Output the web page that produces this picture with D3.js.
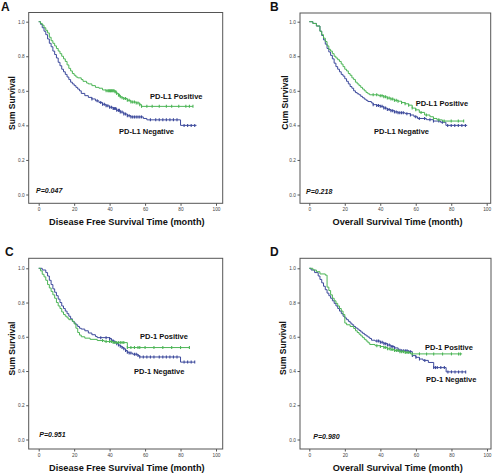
<!DOCTYPE html>
<html><head><meta charset="utf-8">
<script src="https://cdn.jsdelivr.net/npm/d3@7"></script>
<style>body{margin:0;background:#fff}svg{display:block}text{font-family:"Liberation Sans",Arial,sans-serif}</style>
</head><body><svg id="c" width="500" height="475"></svg>
<script>
// ---- data: Kaplan-Meier steps [time (months), survival after step] ----
const aPos=[[0,1],[1,0.99],[2,0.98],[3,0.965],[4,0.95],[5,0.935],[6,0.91],[7,0.89],[8,0.875],[9,0.86],[10,0.845],[11,0.83],[12,0.815],[13,0.8],[14,0.785],[15,0.77],[16,0.75],[17,0.73],[18,0.715],[19,0.7],[20,0.69],[21,0.68],[22,0.675],[24,0.665],[25,0.655],[27,0.645],[28,0.64],[30,0.63],[32,0.62],[34,0.615],[36,0.605],[38,0.6],[43,0.595],[44,0.585],[45,0.575],[46,0.565],[47,0.56],[48,0.555],[50,0.545],[52,0.535],[55,0.53],[57,0.52],[58,0.51],[87,0.51]];
const aNeg=[[0,1],[1,0.985],[2,0.965],[3,0.945],[4,0.925],[5,0.9],[6,0.875],[7,0.855],[8,0.83],[9,0.81],[10,0.79],[11,0.765],[12,0.745],[13,0.725],[14,0.71],[15,0.695],[16,0.68],[17,0.665],[18,0.65],[19,0.64],[20,0.63],[21,0.62],[22,0.61],[23,0.6],[24,0.585],[26,0.572],[28,0.562],[30,0.553],[32,0.542],[34,0.532],[36,0.522],[38,0.513],[40,0.505],[42,0.497],[44,0.487],[46,0.477],[48,0.466],[50,0.456],[52,0.449],[59,0.44],[61,0.432],[80,0.4],[89,0.4]];
const bPos=[[0,1],[2,0.99],[4,0.975],[6,0.945],[7,0.925],[8,0.905],[9,0.885],[10,0.86],[11,0.84],[12,0.83],[13,0.815],[14,0.8],[15,0.79],[16,0.78],[17,0.77],[18,0.755],[19,0.74],[20,0.725],[21,0.715],[22,0.7],[23,0.69],[24,0.675],[25,0.665],[26,0.65],[27,0.64],[28,0.63],[29,0.62],[30,0.61],[31,0.6],[32,0.59],[33,0.583],[34,0.577],[39,0.572],[42,0.565],[44,0.558],[46,0.552],[48,0.545],[50,0.54],[52,0.532],[54,0.525],[56,0.517],[58,0.5],[60,0.49],[62,0.475],[65,0.46],[68,0.45],[70,0.44],[72,0.432],[75,0.425],[87,0.425]];
const bNeg=[[0,1],[2,0.99],[4,0.975],[6,0.945],[7,0.92],[8,0.895],[9,0.87],[10,0.845],[11,0.825],[12,0.805],[13,0.785],[14,0.76],[15,0.74],[16,0.725],[17,0.71],[18,0.695],[19,0.685],[20,0.67],[21,0.655],[22,0.64],[23,0.625],[24,0.615],[25,0.6],[26,0.59],[27,0.583],[28,0.577],[29,0.568],[30,0.56],[31,0.552],[32,0.545],[33,0.538],[35,0.53],[36,0.52],[38,0.515],[40,0.51],[42,0.5],[44,0.492],[46,0.485],[48,0.478],[50,0.473],[54,0.468],[57,0.46],[59,0.45],[61,0.44],[66,0.433],[70,0.425],[74,0.418],[77,0.4],[89,0.4]];
const cPos=[[0,1],[1,0.985],[2,0.965],[3,0.95],[4,0.93],[5,0.905],[6,0.885],[7,0.865],[8,0.845],[9,0.825],[10,0.8],[11,0.78],[12,0.765],[13,0.745],[14,0.73],[15,0.72],[16,0.71],[17,0.7],[19,0.69],[20,0.675],[21,0.65],[22,0.625],[23,0.61],[24,0.6],[26,0.592],[29,0.585],[33,0.578],[37,0.572],[42,0.566],[50,0.537],[85,0.537]];
const cNeg=[[0,1],[2,0.99],[4,0.975],[5,0.955],[6,0.93],[7,0.905],[8,0.88],[9,0.86],[10,0.84],[11,0.82],[12,0.8],[13,0.78],[14,0.765],[15,0.75],[16,0.735],[17,0.72],[18,0.705],[19,0.69],[20,0.68],[21,0.67],[22,0.66],[23,0.65],[24,0.645],[26,0.635],[28,0.622],[30,0.612],[32,0.602],[33,0.595],[40,0.59],[41,0.58],[42,0.575],[43,0.568],[44,0.56],[45,0.552],[46,0.545],[47,0.538],[48,0.53],[49,0.52],[50,0.51],[51,0.505],[53,0.498],[56,0.49],[57,0.482],[80,0.452],[88,0.452]];
const dPos=[[0,1],[2,0.99],[4,0.98],[6,0.967],[9,0.96],[10,0.89],[11,0.87],[12,0.845],[13,0.825],[14,0.81],[15,0.795],[16,0.78],[17,0.765],[18,0.75],[19,0.73],[20,0.68],[21,0.67],[23,0.66],[25,0.648],[26,0.635],[27,0.625],[28,0.615],[29,0.605],[30,0.595],[31,0.585],[32,0.575],[33,0.565],[34,0.555],[37,0.548],[40,0.543],[42,0.537],[44,0.53],[46,0.525],[48,0.52],[51,0.513],[54,0.508],[57,0.5],[86,0.5]];
const dNeg=[[0,1],[1,0.99],[3,0.975],[5,0.955],[6,0.935],[7,0.915],[8,0.895],[9,0.875],[10,0.855],[11,0.84],[12,0.825],[13,0.81],[14,0.795],[15,0.78],[16,0.765],[17,0.75],[18,0.735],[19,0.72],[20,0.71],[21,0.7],[22,0.69],[23,0.68],[24,0.67],[25,0.66],[26,0.652],[27,0.645],[28,0.637],[29,0.628],[30,0.62],[31,0.612],[32,0.605],[33,0.598],[34,0.59],[35,0.58],[37,0.575],[40,0.568],[42,0.56],[44,0.552],[46,0.543],[48,0.535],[50,0.522],[52,0.518],[56,0.513],[58,0.49],[60,0.48],[62,0.47],[64,0.462],[67,0.45],[70,0.42],[77,0.395],[88,0.395]];
// censored observation times (months)
const aPosCens=[38,39,39.5,40,40.5,41,41.5,42,42.5,43,43.5,44,45,45.5,46,47,48,49,50,51,52,53,54,55,56,57,58,61,64,68,72,75,79,83,85,87];
const aNegCens=[30,33,35,36,37,38,39,40,41,42,42.5,43,43.5,44,45,45.5,46,47,48,49,50,51,52,53,54,55,56,57,58,63,66,68,70,72,74,76,78,82,84,86,88];
const bPosCens=[36,38,40,41,42,43,44,45,46,47,48,49,50,52,54,56,58,60,63,66,70,73,76,80,84,87];
const bNegCens=[36,38,39,40,41,42,43,44,45,46,47,48,49,50,51,52,53,55,57,60,62,65,68,70,73,75,78,80,82,84,86,88];
const cPosCens=[36,38,40,41,42,43,44,45,46,47,48,50,52,54,56,57,60,65,70,75,80,85];
const cNegCens=[35,38,40,41,42,43,44,45,46,47,48,49,50,51,52,54,55,56,57,59,61,63,65,68,70,72,74,76,78,82,84,86,88];
const dPosCens=[38,40,42,43,44,45,46,47,48,49,50,51,52,53,54,55,56,58,62,66,70,75,80,84,85];
const dNegCens=[38,39,40,41,42,43,44,45,46,47,48,50,51,52,53,54,55,56,57,58,60,62,65,70,71,72,74,76,78,80,82,84,86,88];
const xTicks=[0,20,40,60,80,100];
const yTicks=[0,0.2,0.4,0.6,0.8,1.0];
const panelLetters=["A","B","C","D"];
const xTitles=["Disease Free Survival Time (month)","Overall Survival Time (month)","Disease Free Survival Time (month)","Overall Survival Time (month)"];
const yTitles=["Sum Survival","Cum Survival","Sum Survival","Sum Survival"];
const pValues=["P=0.047","P=0.218","P=0.951","P=0.980"];
const posLabels=["PD-L1 Positive","PD-L1 Positive","PD-1 Positive","PD-1 Positive"];
const negLabels=["PD-L1 Negative","PD-L1 Negative","PD-1 Negative","PD-1 Negative"];
const posSeries=[aPos,bPos,cPos,dPos], negSeries=[aNeg,bNeg,cNeg,dNeg];
const posCens=[aPosCens,bPosCens,cPosCens,dPosCens], negCens=[aNegCens,bNegCens,cNegCens,dNegCens];

// ---- layout ----
const layouts=[
 {box:[28.7,222.7,12.5,203.3],xr:[38.7,216],yr:[194.5,21.7],letter:[1,10.5],xt:[126.8,221.7],yt:[12,103],tl:209.3,p:[36,190.5],pl:[150,96.7],nl:[119,131.7]},
 {box:[300,490.7,13,203.3],xr:[309.3,486.7],yr:[194.5,21.7],letter:[270,10.5],xt:[397.5,221.7],yt:[284.5,102.5],tl:209.3,p:[306,191],pl:[415.7,103.3],nl:[374,131.7]},
 {box:[28.7,222.7,258.3,449],xr:[38.7,216],yr:[439.5,268.3],letter:[5,256],xt:[126.8,467.7],yt:[11.7,348.5],tl:455,p:[39.3,434.3],pl:[140,336.7],nl:[134,371.7]},
 {box:[300,491,258.3,449],xr:[309.3,487],yr:[439.5,268.3],letter:[270,256],xt:[397.7,467.7],yt:[283,348],tl:455,p:[313.3,436],pl:[425,347.7],nl:[426,379.7]}
];
const green="#4cb556", blue="#3d4a9c";
const svg=d3.select("#c");

function survAt(steps,t){let s=1;for(const d of steps){if(d[0]<=t)s=d[1];}return s;}

layouts.forEach((L,i)=>{
  const g=svg.append("g");
  const x=d3.scaleLinear().domain([0,100]).range(L.xr);
  const y=d3.scaleLinear().domain([0,1]).range(L.yr);
  g.append("rect").attr("x",L.box[0]).attr("y",L.box[2]).attr("width",L.box[1]-L.box[0]).attr("height",L.box[3]-L.box[2])
   .attr("fill","none").attr("stroke","#555").attr("stroke-width",1);
  const ya=g.append("g").attr("transform",`translate(${L.box[0]},0)`)
   .call(d3.axisLeft(y).tickValues(yTicks).tickFormat(d3.format(".1f")).tickSize(2.5).tickPadding(1.5));
  ya.select(".domain").remove();
  ya.selectAll("line").attr("stroke","#555");
  ya.selectAll("text").attr("font-size","4.8px").attr("fill","#444").attr("font-family","Liberation Sans, Arial");
  const xa=g.append("g").attr("transform",`translate(0,${L.box[3]})`)
   .call(d3.axisBottom(x).tickValues(xTicks).tickSize(2.5).tickPadding(0));
  xa.select(".domain").remove();
  xa.selectAll("line").attr("stroke","#555");
  xa.selectAll("text").attr("font-size","4.8px").attr("fill","#444").attr("font-family","Liberation Sans, Arial")
    .attr("dy",null).attr("y",L.tl-L.box[3]).attr("dominant-baseline","central");
  const line=d3.line().x(d=>x(d[0])).y(d=>y(d[1])).curve(d3.curveStepAfter);
  [[negSeries[i],negCens[i],blue],[posSeries[i],posCens[i],green]].forEach(([steps,cens,col])=>{
    g.append("path").attr("d",line(steps)).attr("fill","none").attr("stroke",col).attr("stroke-width",1);
    g.selectAll(null).data(cens).enter().append("line")
     .attr("x1",d=>x(d)).attr("x2",d=>x(d))
     .attr("y1",d=>y(survAt(steps,d))-1.5).attr("y2",d=>y(survAt(steps,d))+1.5)
     .attr("stroke",col).attr("stroke-width",1.1);
  });
  g.append("text").attr("x",L.letter[0]).attr("y",L.letter[1]).text(panelLetters[i])
   .attr("font-size","12px").attr("font-weight","bold").attr("fill","#111");
  g.append("text").attr("x",L.xt[0]).attr("y",L.xt[1]).attr("text-anchor","middle").attr("dominant-baseline","central")
   .attr("font-size","9.2px").attr("font-weight","bold").attr("fill","#111").text(xTitles[i]);
  g.append("text").attr("transform",`translate(${L.yt[0]},${L.yt[1]}) rotate(-90)`).attr("text-anchor","middle").attr("dominant-baseline","central")
   .attr("font-size","8.5px").attr("font-weight","bold").attr("fill","#111").text(yTitles[i]);
  g.append("text").attr("x",L.p[0]).attr("y",L.p[1]).attr("dominant-baseline","central")
   .attr("font-size","7px").attr("font-weight","bold").attr("font-style","italic").attr("fill","#111").text(pValues[i]);
  g.append("text").attr("x",L.pl[0]).attr("y",L.pl[1]).attr("dominant-baseline","central")
   .attr("font-size","7.5px").attr("font-weight","bold").attr("fill","#111").text(posLabels[i]);
  g.append("text").attr("x",L.nl[0]).attr("y",L.nl[1]).attr("dominant-baseline","central")
   .attr("font-size","7.5px").attr("font-weight","bold").attr("fill","#111").text(negLabels[i]);
});
</script></body></html>
